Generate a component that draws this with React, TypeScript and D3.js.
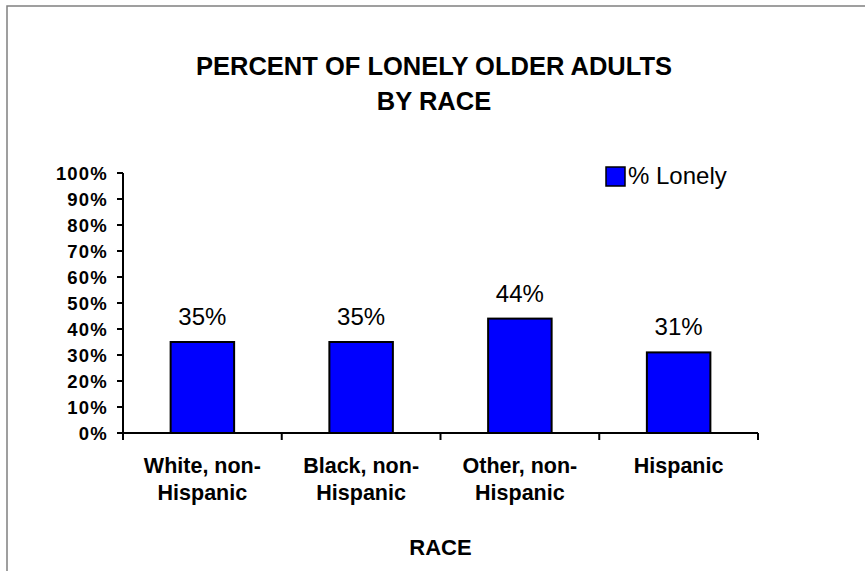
import React from "react";
import * as d3 from "d3";

const categories: string[][] = [
  ["White, non-", "Hispanic"],
  ["Black, non-", "Hispanic"],
  ["Other, non-", "Hispanic"],
  ["Hispanic"],
];
const values: number[] = [0.35, 0.35, 0.44, 0.31];
const yTicks: number[] = [0, 0.1, 0.2, 0.3, 0.4, 0.5, 0.6, 0.7, 0.8, 0.9, 1.0];
const titleLines: string[] = ["PERCENT OF LONELY OLDER ADULTS", "BY RACE"];
const seriesName = "% Lonely";
const xTitle = "RACE";

const FONT = "'Liberation Sans', Arial, Helvetica, sans-serif";

export default function App() {
  const W = 865;
  const H = 571;
  const left = 123;
  const right = 758;
  const top = 173;
  const bottom = 433;

  const idx = categories.map((_, i) => String(i));
  const x = d3
    .scaleBand<string>()
    .domain(idx)
    .range([left, right])
    .paddingInner(0.6)
    .paddingOuter(0.3);
  const y = d3.scaleLinear().domain([0, 1]).range([bottom, top]);
  const step = x.step();
  const fmt = d3.format(".0%");
  const boundaries = d3.range(categories.length + 1).map((i) => left + i * step);

  return (
    <svg
      width={W}
      height={H}
      style={{ position: "absolute", left: 0, top: 0, background: "#fff" }}
      fontFamily={FONT}
    >
      <rect x={0} y={0} width={W} height={H} fill="#fff" />
      {/* outer frame */}
      <rect x={7} y={6} width={W + 20} height={H + 20} fill="none" stroke="#808080" strokeWidth={1.5} />

      {/* title */}
      <text x={434} textAnchor="middle" fontWeight="bold" fontSize={25.5} fill="#000">
        <tspan x={434} y={75}>{titleLines[0]}</tspan>
        <tspan x={434} y={110}>{titleLines[1]}</tspan>
      </text>

      {/* y axis */}
      <line x1={left} x2={left} y1={top} y2={bottom + 7} stroke="#000" strokeWidth={2} />
      {yTicks.map((t) => (
        <g key={t}>
          <line x1={left - 6} x2={left} y1={y(t)} y2={y(t)} stroke="#000" strokeWidth={2} />
          <text
            x={108}
            y={y(t)}
            dy="0.36em"
            textAnchor="end"
            fontWeight="bold"
            fontSize={18.5}
            letterSpacing={1.2}
            fill="#000"
          >
            {fmt(t)}
          </text>
        </g>
      ))}

      {/* bars */}
      {values.map((v, i) => (
        <g key={i}>
          <rect
            x={x(String(i))}
            y={y(v)}
            width={x.bandwidth()}
            height={bottom - y(v)}
            fill="#0000FF"
            stroke="#000"
            strokeWidth={2}
          />
          <text
            x={(x(String(i)) as number) + x.bandwidth() / 2}
            y={y(v) - 17}
            textAnchor="middle"
            fontSize={24}
            fill="#000"
          >
            {fmt(v)}
          </text>
        </g>
      ))}

      {/* x axis */}
      <line x1={left} x2={right} y1={bottom} y2={bottom} stroke="#000" strokeWidth={2} />
      {boundaries.map((b, i) => (
        <line key={i} x1={b} x2={b} y1={bottom} y2={bottom + 7} stroke="#000" strokeWidth={2} />
      ))}
      {categories.map((lines, i) => (
        <text
          key={i}
          textAnchor="middle"
          fontWeight="bold"
          fontSize={21.5}
          fill="#000"
        >
          {lines.map((l, j) => (
            <tspan key={j} x={(x(String(i)) as number) + x.bandwidth() / 2} y={473 + j * 27}>
              {l}
            </tspan>
          ))}
        </text>
      ))}
      <text x={(left + right) / 2} y={555} textAnchor="middle" fontWeight="bold" fontSize={22} fill="#000">
        {xTitle}
      </text>

      {/* legend */}
      <rect x={606} y={167} width={19} height={19} fill="#0000FF" stroke="#000" strokeWidth={1.5} />
      <text x={628} y={184} fontSize={24} fill="#000">
        {seriesName}
      </text>
    </svg>
  );
}
